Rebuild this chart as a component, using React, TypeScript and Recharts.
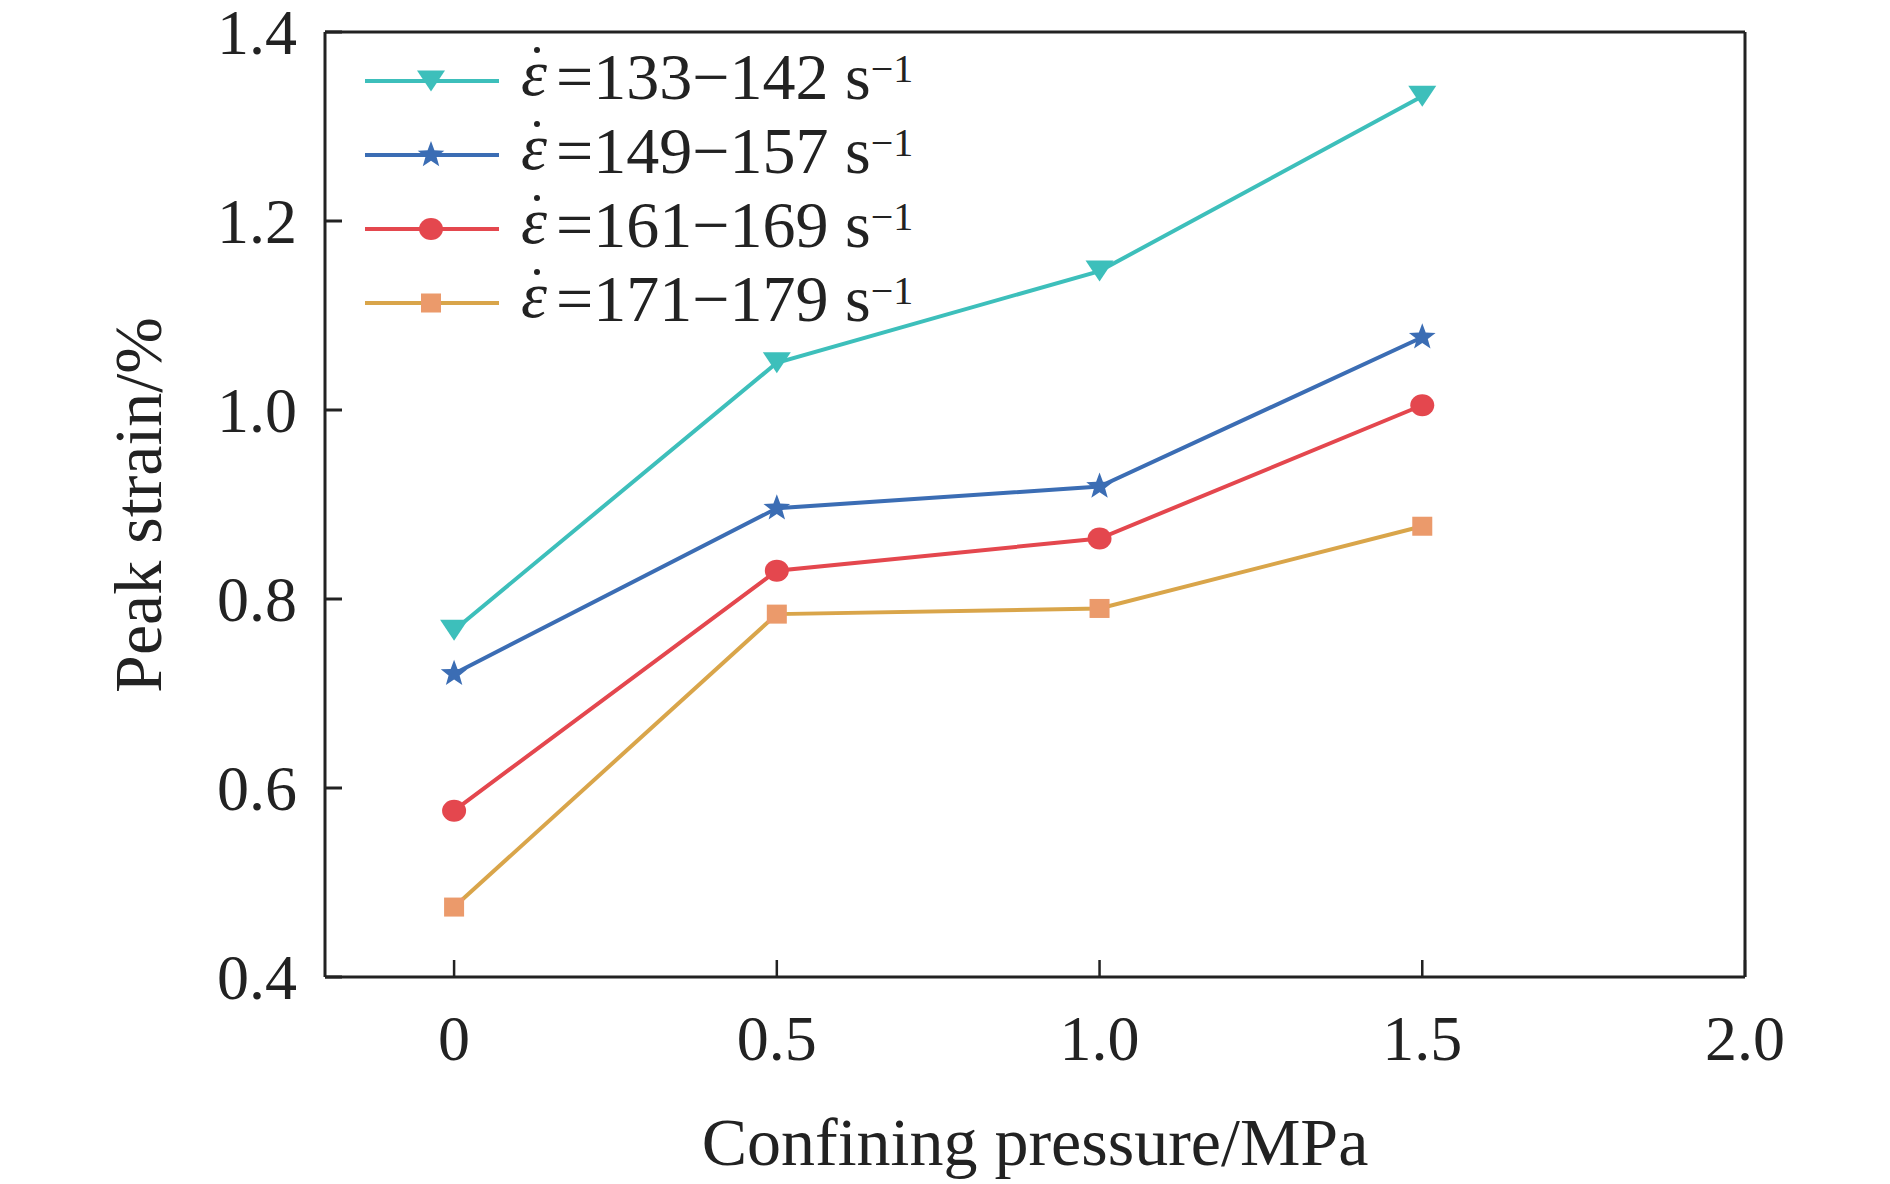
import React from 'react';
import { LineChart, Line, XAxis, YAxis, ReferenceLine, Legend, Label } from 'recharts';

// confining pressure (MPa) and peak strain (%) per strain-rate group
const pressure = [0, 0.5, 1.0, 1.5];
const rate133 = [0.767, 1.05, 1.147, 1.332];
const rate149 = [0.721, 0.896, 0.919, 1.077];
const rate161 = [0.576, 0.83, 0.864, 1.005];
const rate171 = [0.474, 0.784, 0.79, 0.877];

const xTicks = [0, 0.5, 1.0, 1.5, 2.0];
const yTicks = [0.4, 0.6, 0.8, 1.0, 1.2, 1.4];

const series = [
  { key: 'r133', label: '=133\u2212142 s', line: '#3dbfbb', fill: '#3dbfbb', shape: 'triangle' },
  { key: 'r149', label: '=149\u2212157 s', line: '#3b6db4', fill: '#3b6db4', shape: 'star' },
  { key: 'r161', label: '=161\u2212169 s', line: '#e4474e', fill: '#e4474e', shape: 'circle' },
  { key: 'r171', label: '=171\u2212179 s', line: '#d9a54a', fill: '#eb9a6b', shape: 'square' },
];

const data = pressure.map((p, i) => ({
  p,
  r133: rate133[i],
  r149: rate149[i],
  r161: rate161[i],
  r171: rate171[i],
}));

const FONT = '"Liberation Serif", "Times New Roman", serif';
const INK = '#222';

const starPath = (cx: number, cy: number, R: number, r: number) => {
  const pts: string[] = [];
  for (let i = 0; i < 10; i++) {
    const rad = i % 2 === 0 ? R : r;
    const a = -Math.PI / 2 + (i * Math.PI) / 5;
    pts.push(`${cx + rad * Math.cos(a)},${cy + rad * Math.sin(a)}`);
  }
  return `M${pts.join('L')}Z`;
};

const Marker = ({ shape, cx, cy, fill }: { shape: string; cx: number; cy: number; fill: string }) => {
  if (shape === 'triangle')
    return <polygon points={`${cx - 14},${cy - 10.5} ${cx + 14},${cy - 10.5} ${cx},${cy + 10.5}`} fill={fill} />;
  if (shape === 'star') return <path d={starPath(cx, cy, 14, 5.8)} fill={fill} />;
  if (shape === 'circle') return <ellipse cx={cx} cy={cy} rx={12} ry={11} fill={fill} />;
  return <rect x={cx - 10} y={cy - 9.5} width={20} height={19} fill={fill} />;
};

const XTick = (props: any) => {
  const { x, y, payload } = props;
  const v = payload.value;
  return (
    <g>
      <line x1={x} y1={y} x2={x} y2={y - 17} stroke={INK} strokeWidth={2.5} />
      <text x={x} y={y + 83} textAnchor="middle" fontFamily={FONT} fontSize={64} fill={INK}>
        {v === 0 ? '0' : v.toFixed(1)}
      </text>
    </g>
  );
};

const YTick = (props: any) => {
  const { x, y, payload } = props;
  return (
    <g>
      <line x1={x} y1={y} x2={x + 17} y2={y} stroke={INK} strokeWidth={3} />
      <text x={x - 28} y={y + 22} textAnchor="end" fontFamily={FONT} fontSize={64} fill={INK}>
        {payload.value.toFixed(1)}
      </text>
    </g>
  );
};

const LegendBox = () => (
  <div style={{ fontFamily: FONT, color: INK }}>
    {series.map((s) => (
      <div key={s.key} style={{ display: 'flex', alignItems: 'center', height: 74 }}>
        <svg width={156} height={74} style={{ display: 'block' }}>
          <line x1={0} y1={37} x2={134} y2={37} stroke={s.line} strokeWidth={4} />
          <Marker shape={s.shape} cx={66} cy={37} fill={s.fill} />
        </svg>
        <span style={{ fontSize: 66, lineHeight: '74px', whiteSpace: 'nowrap' }}>
          <span style={{ position: 'relative', top: -4, display: 'inline-block', fontStyle: 'italic', marginRight: 9 }}>
            {'\u03b5'}
            <span
              style={{
                position: 'absolute',
                left: 13,
                top: 11,
                width: 6,
                height: 6,
                borderRadius: 3,
                background: INK,
              }}
            />
          </span>
          {s.label}
          <span style={{ fontSize: 40, position: 'relative', top: -17 }}>{'\u22121'}</span>
        </span>
      </div>
    ))}
  </div>
);

export default function App() {
  return (
    <div style={{ position: 'absolute', left: 0, top: 0, width: 1890, height: 1184, background: '#fff' }}>
      <LineChart width={1890} height={1184} data={data} margin={{ top: 32, right: 145, left: 125, bottom: 87 }}>
        <XAxis
          dataKey="p"
          type="number"
          domain={[-0.2, 2.0]}
          ticks={xTicks}
          height={120}
          tickSize={0}
          tickMargin={0}
          tickLine={false}
          tick={XTick}
          axisLine={{ stroke: INK, strokeWidth: 3 }}
          allowDataOverflow
        >
          <Label
            content={() => (
              <text x={1035} y={1165} textAnchor="middle" fontFamily={FONT} fontSize={68} fill={INK}>
                Confining pressure/MPa
              </text>
            )}
          />
        </XAxis>
        <YAxis
          type="number"
          domain={[0.4, 1.4]}
          ticks={yTicks}
          width={200}
          tickSize={0}
          tickMargin={0}
          tickLine={false}
          tick={YTick}
          axisLine={{ stroke: INK, strokeWidth: 3 }}
          allowDataOverflow
        >
          <Label
            content={() => (
              <text
                x={161}
                y={505}
                transform="rotate(-90, 161, 505)"
                textAnchor="middle"
                fontFamily={FONT}
                fontSize={68}
                fill={INK}
              >
                Peak strain/%
              </text>
            )}
          />
        </YAxis>
        <ReferenceLine y={1.4} stroke={INK} strokeWidth={3} />
        <ReferenceLine x={2.0} stroke={INK} strokeWidth={3} />
        <Legend
          layout="vertical"
          align="center"
          verticalAlign="middle"
          content={LegendBox}
          wrapperStyle={{ position: 'absolute', left: 365, top: 44, width: 'auto', height: 'auto' }}
        />
        {series.map((s) => (
          <Line
            key={s.key}
            type="linear"
            dataKey={s.key}
            stroke={s.line}
            strokeWidth={4}
            isAnimationActive={false}
            legendType="none"
            dot={(props: any) => (
              <Marker key={`${s.key}-${props.index}`} shape={s.shape} cx={props.cx} cy={props.cy} fill={s.fill} />
            )}
            activeDot={false}
          />
        ))}
      </LineChart>
    </div>
  );
}
